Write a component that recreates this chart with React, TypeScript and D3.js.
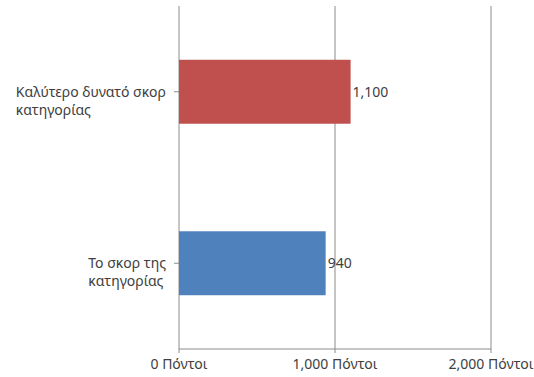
import React from "react";
import * as d3 from "d3";

const categories = ["Καλύτερο δυνατό σκορ κατηγορίας", "Το σκορ της κατηγορίας"];
const categoryLines = [["Καλύτερο δυνατό σκορ", "κατηγορίας"], ["Το σκορ της", "κατηγορίας"]];
const values = [1100, 940];
const colors = ["#C0504D", "#4F81BD"];
const xTicks = [0, 1000, 2000];

const W = 534, H = 377;
const left = 179, right = 491, top = 6, bottom = 349;
const fontFamily = "'Noto Sans', sans-serif";
const fs = 14;

function measure(text: string): number {
  const c = document.createElement("canvas").getContext("2d");
  if (!c) return text.length * 7;
  c.font = `${fs}px 'Noto Sans', sans-serif`;
  return c.measureText(text).width;
}

export default function App() {
  const x = d3.scaleLinear().domain([0, 2000]).range([left, right]);
  const y = d3.scaleBand().domain(categories).range([top, bottom]).paddingInner(0.627).paddingOuter(0.3135);
  const fmt = d3.format(",");
  return (
    <svg width={W} height={H} style={{ position: "absolute", left: 0, top: 0 }}>
      <rect width={W} height={H} fill="#fff" />
      {xTicks.map((t) => (
        <g key={t}>
          <line x1={x(t)} x2={x(t)} y1={top} y2={bottom + 4} stroke="#8c8c8c" strokeWidth={1} />
          <text x={x(t)} y={369} textAnchor="middle" fontFamily={fontFamily} fontSize={fs} fill="#404040">
            {fmt(t)} Πόντοι
          </text>
        </g>
      ))}
      <line x1={left} x2={right} y1={bottom} y2={bottom} stroke="#8c8c8c" strokeWidth={1} />
      {categories.map((c, i) => {
        const y0 = y(c)!;
        const cy = y0 + y.bandwidth() / 2;
        const wMax = Math.max(...categoryLines[i].map(measure));
        const lx = left - 13 - wMax;
        return (
          <g key={c}>
            <rect x={x(0)} y={y0} width={x(values[i]) - x(0)} height={y.bandwidth()} fill={colors[i]} />
            <line x1={left - 5} x2={left} y1={cy} y2={cy} stroke="#8c8c8c" />
            <text x={lx} y={cy + 5} fontFamily={fontFamily} fontSize={fs} fill="#404040">
              {categoryLines[i][0]}
            </text>
            <text x={lx} y={cy + 23} fontFamily={fontFamily} fontSize={fs} fill="#404040">
              {categoryLines[i][1]}
            </text>
            <text x={x(values[i]) + 2} y={cy + 5} fontFamily={fontFamily} fontSize={fs} fill="#404040">
              {fmt(values[i])}
            </text>
          </g>
        );
      })}
    </svg>
  );
}
